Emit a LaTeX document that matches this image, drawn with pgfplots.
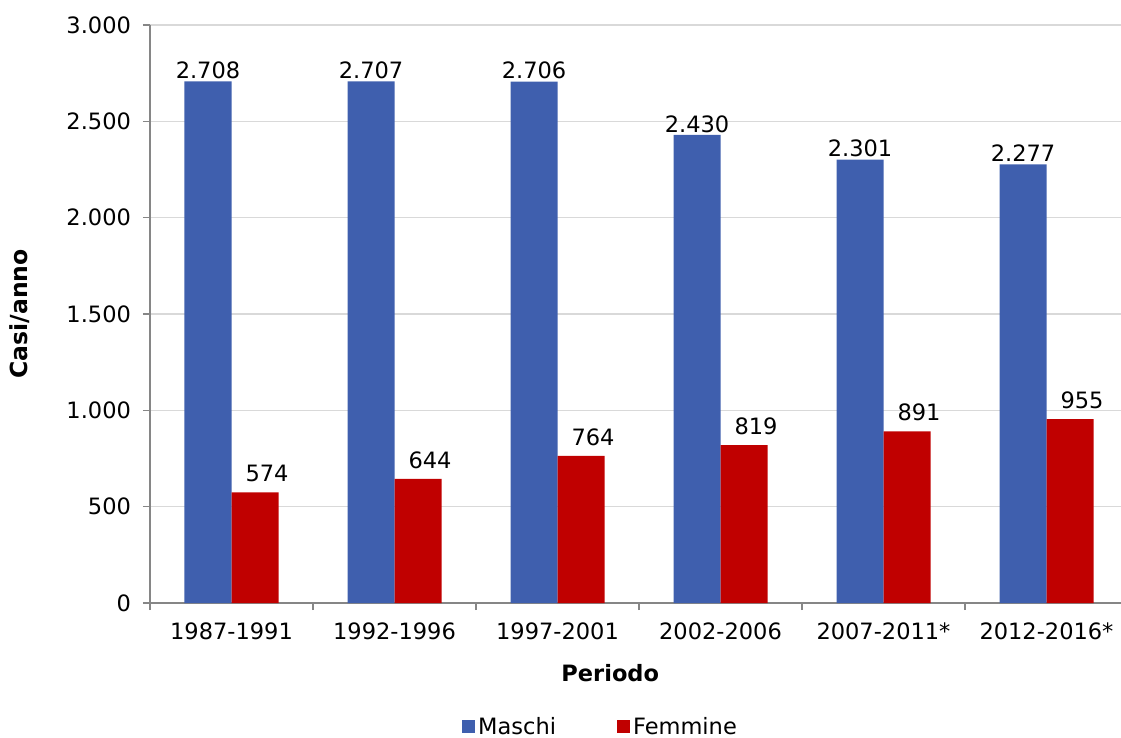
\documentclass[border=0pt]{standalone}
\usepackage{fontspec}
\setmainfont{DejaVu Sans}
\usepackage{pgfplots}
\pgfplotsset{compat=1.18}
\definecolor{mblue}{HTML}{3F5FAE}
\definecolor{fred}{HTML}{C00000}
\definecolor{axgray}{HTML}{868686}
\definecolor{gridgray}{HTML}{D9D9D9}
\newcommand\f{\fontsize{11.3}{13.5}\selectfont}

\begin{document}
\begin{tikzpicture}
\begin{axis}[
  ybar=0pt, bar width=23.5bp,
  width=485.5bp, height=289bp, scale only axis,
  xmin=-0.5, xmax=5.457, ymin=0, ymax=3000,
  xtick={0,1,2,3,4,5},
  xticklabels={1987-1991,1992-1996,1997-2001,2002-2006,2007-2011*,2012-2016*},
  minor xtick={-0.5,0.5,1.5,2.5,3.5,4.5},
  ytick={0,500,...,3000},
  xtick style={draw=none},
  minor x tick style={draw=axgray, line width=0.6bp},
  ytick style={draw=axgray, line width=0.6bp},
  tick align=outside, major tick length=3.5bp, minor tick length=3.5bp,
  axis x line*=bottom, axis y line*=left,
  x axis line style={draw=axgray, line width=1.1bp, -},
  y axis line style={draw=axgray, line width=0.6bp, -},
  ymajorgrids, grid style={gridgray, line width=0.8bp},
  /pgf/number format/.cd, 1000 sep={.}, assume math mode=true, /pgfplots/.cd,
  tick label style={font=\f, black},
  xticklabel style={yshift=-3bp},
  yticklabel style={xshift=-2.5bp},
  ylabel={\textbf{Casi/anno}},
  ylabel style={font=\fontsize{11.8}{14}\selectfont, yshift=11.5bp},
  xlabel={\textbf{Periodo}},
  xlabel style={font=\f, at={(axis description cs:0.474,-0.121)}, anchor=center},
  nodes near coords, every node near coord/.append style={font=\f, black, inner sep=2bp},
  legend columns=2,
  legend style={at={(0.4645,-0.2145)}, anchor=center, draw=none, font=\f,
    nodes={inner sep=1.5bp},
    /tikz/every odd column/.append style={xshift=1.5bp},
    /tikz/every even column/.append style={column sep=29bp}},
  legend image code/.code={\fill[#1] (0bp,-3.1bp) rectangle (6.5bp,3.3bp);},
]
\addplot[fill=mblue, draw=none,
  every node near coord/.append style={yshift=-1bp}] coordinates
  {(0,2708)(1,2707)(2,2706)(3,2430)(4,2301)(5,2277)};
\addplot[fill=fred, draw=none,
  every node near coord/.append style={xshift=6bp, yshift=3bp}] coordinates
  {(0,574)(1,644)(2,764)(3,819)(4,891)(5,955)};
\legend{Maschi,Femmine}
\end{axis}
\pgfresetboundingbox
\path (current axis.south west) ++(-75bp,-67.5bp) coordinate (bl);
\path (current axis.north east) ++(0bp,12.5bp) coordinate (tr);
\useasboundingbox (bl) rectangle (tr);
\end{tikzpicture}
\end{document}
